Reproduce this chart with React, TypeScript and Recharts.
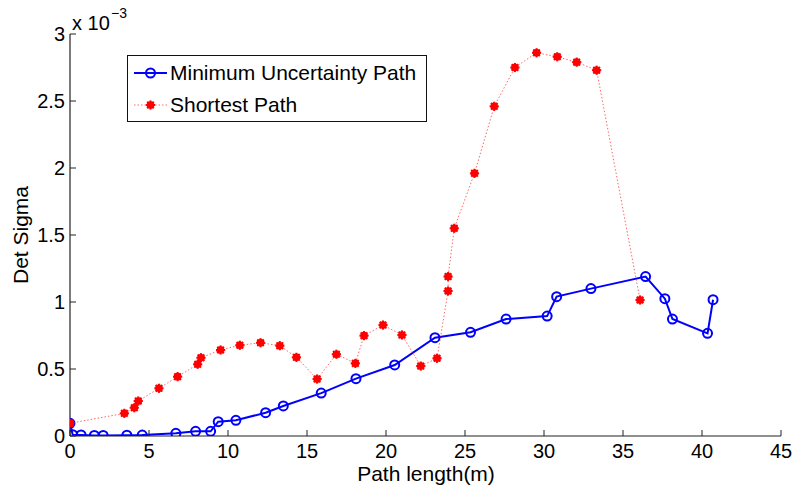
import React from "react";
import { Customized, Legend, Line, LineChart, XAxis, YAxis } from "recharts";

// Det Sigma values are in units of 1e-3
const minUncX = [0, 0.17, 0.7, 1.54, 2.1, 3.6, 4.57, 6.7, 7.95, 8.9, 9.38, 10.5, 12.38, 13.5, 15.9, 18.1, 20.55, 23.1, 25.35, 27.6, 30.2, 30.8, 32.97, 36.43, 37.65, 38.13, 40.35, 40.7];
const minUncY = [0.095, 0.01, 0.008, 0.004, 0.004, 0.006, 0.007, 0.02, 0.035, 0.035, 0.107, 0.117, 0.174, 0.224, 0.32, 0.428, 0.53, 0.734, 0.774, 0.873, 0.895, 1.04, 1.1, 1.19, 1.025, 0.873, 0.766, 1.017];

const shortX = [0, 3.44, 4.07, 4.32, 5.63, 6.81, 8.08, 8.29, 9.53, 10.75, 12.06, 13.28, 14.33, 15.64, 16.86, 18.06, 18.61, 19.81, 21.01, 22.2, 23.23, 23.93, 23.93, 24.32, 25.6, 26.85, 28.16, 29.53, 30.84, 32.07, 33.33, 36.08];
const shortY = [0.095, 0.169, 0.211, 0.261, 0.356, 0.443, 0.535, 0.584, 0.642, 0.677, 0.696, 0.674, 0.587, 0.425, 0.61, 0.542, 0.749, 0.828, 0.754, 0.522, 0.58, 1.082, 1.19, 1.55, 1.96, 2.46, 2.75, 2.86, 2.83, 2.79, 2.73, 1.015];

const xTicks = [0, 5, 10, 15, 20, 25, 30, 35, 40, 45];
const yTicks = [0, 0.5, 1, 1.5, 2, 2.5, 3];

const minUncData = minUncX.map((x, i) => ({ x, y: minUncY[i] }));
const shortData = shortX.map((x, i) => ({ x, y: shortY[i] }));

const FONT = "'Liberation Sans', Arial, Helvetica, sans-serif";

const XTick = (props: any) => {
  const { x, y, payload } = props;
  return (
    <g>
      <line x1={x} y1={y} x2={x} y2={y - 6} stroke="#222" strokeWidth={1} />
      <text x={x} y={y + 21.5} textAnchor="middle" fontSize={20} fill="#000" fontFamily={FONT}>
        {payload.value}
      </text>
    </g>
  );
};

const YTick = (props: any) => {
  const { x, y, payload } = props;
  return (
    <g>
      <line x1={x} y1={y} x2={x + 6} y2={y} stroke="#222" strokeWidth={1} />
      <text x={x - 5} y={y + 7} textAnchor="end" fontSize={20} fill="#000" fontFamily={FONT}>
        {payload.value}
      </text>
    </g>
  );
};

const CircleDot = (props: any) => {
  const { cx, cy, index } = props;
  return <circle key={index} cx={cx} cy={cy} r={4.5} fill="none" stroke="#0000ff" strokeWidth={2} />;
};

const StarDot = (props: any) => {
  const { cx, cy, index } = props;
  return (
    <g key={index}>
      <circle cx={cx} cy={cy} r={3.8} fill="#ff0000" />
      <line x1={cx - 4.6} y1={cy} x2={cx + 4.6} y2={cy} stroke="#ff0000" strokeWidth={2} />
      <line x1={cx} y1={cy - 4.6} x2={cx} y2={cy + 4.6} stroke="#ff0000" strokeWidth={2} />
      <line x1={cx - 3.3} y1={cy - 3.3} x2={cx + 3.3} y2={cy + 3.3} stroke="#ff0000" strokeWidth={2} />
      <line x1={cx - 3.3} y1={cy + 3.3} x2={cx + 3.3} y2={cy - 3.3} stroke="#ff0000" strokeWidth={2} />
    </g>
  );
};

const LegendBox = () => (
  <div
    style={{
      width: 298,
      height: 65,
      border: "1.5px solid #111",
      background: "#fff",
      fontFamily: FONT,
      fontSize: 21,
      color: "#000",
      position: "relative",
    }}
  >
    <svg width={42} height={65} style={{ position: "absolute", left: 0, top: 0 }}>
      <line x1={6} y1={17} x2={39} y2={17} stroke="#0000ff" strokeWidth={2} />
      <circle cx={22.5} cy={17} r={4.5} fill="none" stroke="#0000ff" strokeWidth={2} />
      <line x1={6} y1={49} x2={39} y2={49} stroke="#ff0000" strokeOpacity={0.6} strokeWidth={1} strokeDasharray="1.5 2" />
      <StarDot cx={22.5} cy={49} index={0} />
    </svg>
    <div style={{ position: "absolute", left: 42, top: 4, lineHeight: "26px", whiteSpace: "nowrap" }}>Minimum Uncertainty Path</div>
    <div style={{ position: "absolute", left: 42, top: 36, lineHeight: "26px", whiteSpace: "nowrap" }}>Shortest Path</div>
  </div>
);

const Annotations = () => (
  <g fontFamily={FONT} fill="#000">
    <text x={72} y={30} fontSize={20}>x 10</text>
    <text x={111} y={18} fontSize={14}>−3</text>
    <text x={426} y={481} fontSize={21} textAnchor="middle">Path length(m)</text>
    <text x={28} y={235} fontSize={21} textAnchor="middle" transform="rotate(-90 28 235)">Det Sigma</text>
  </g>
);

export default function App() {
  return (
    <div style={{ position: "absolute", left: 0, top: 0, width: 793, height: 485, background: "#fff", fontFamily: FONT }}>
      <LineChart width={793} height={485} margin={{ top: 34, right: 12, bottom: 0, left: 0 }}>
        <XAxis
          type="number"
          dataKey="x"
          domain={[0, 45]}
          ticks={xTicks}
          allowDataOverflow
          height={49}
          tickSize={0}
          tickMargin={0}
          tick={<XTick />}
          stroke="#222"
          strokeWidth={1.2}
        />
        <YAxis
          type="number"
          dataKey="y"
          domain={[0, 3]}
          ticks={yTicks}
          allowDataOverflow
          width={70}
          tickSize={0}
          tickMargin={0}
          tick={<YTick />}
          stroke="#222"
          strokeWidth={1.2}
        />
        <Line
          data={minUncData}
          dataKey="y"
          name="Minimum Uncertainty Path"
          stroke="#0000ff"
          strokeWidth={2}
          dot={CircleDot}
          activeDot={false}
          isAnimationActive={false}
        />
        <Line
          data={shortData}
          dataKey="y"
          name="Shortest Path"
          stroke="#ff0000"
          strokeOpacity={0.6}
          strokeWidth={1}
          strokeDasharray="1.5 2"
          dot={StarDot}
          activeDot={false}
          isAnimationActive={false}
        />
        <Legend
          layout="horizontal"
          verticalAlign="middle"
          align="center"
          content={<LegendBox />}
          wrapperStyle={{ left: 127, top: 55, width: 301 }}
        />
        <Customized component={Annotations} />
      </LineChart>
    </div>
  );
}
